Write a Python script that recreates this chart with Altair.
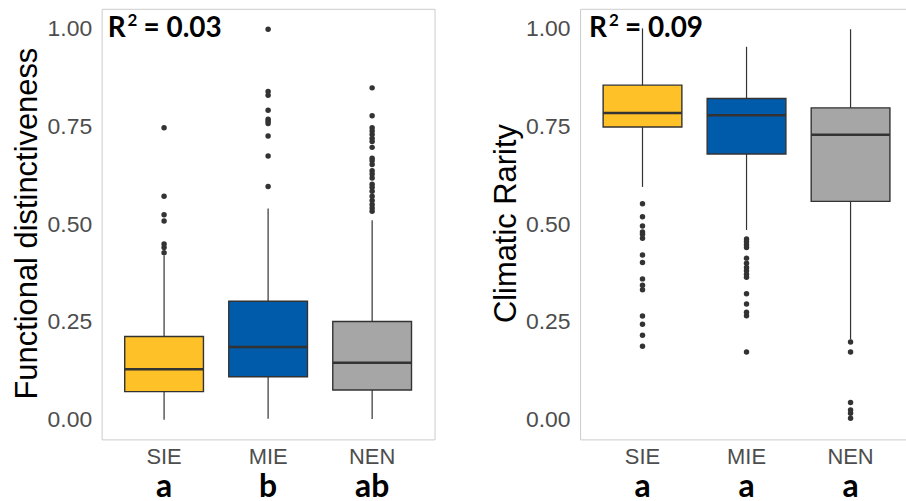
import altair as alt
import pandas as pd

groups = ["SIE", "MIE", "NEN"]
fills = ["#FEC127", "#005BAA", "#A6A6A6"]
y_ticks = [0.0, 0.25, 0.5, 0.75, 1.0]

# Functional distinctiveness: box statistics per group
fd_lower = [0.000, 0.003, 0.002]
fd_q1 = [0.072, 0.110, 0.076]
fd_median = [0.129, 0.186, 0.146]
fd_q3 = [0.213, 0.303, 0.251]
fd_upper = [0.420, 0.540, 0.510]
fd_out_sie = [0.746, 0.571, 0.524, 0.508, 0.449, 0.440, 0.427]
fd_out_mie = [0.998, 0.839, 0.829, 0.791, 0.768, 0.763, 0.757, 0.725, 0.674, 0.596]
fd_out_nen = [0.848, 0.777, 0.746, 0.738, 0.729, 0.719, 0.711, 0.696, 0.668, 0.662,
              0.652, 0.636, 0.628, 0.618, 0.602, 0.594, 0.584, 0.571, 0.560, 0.550,
              0.541, 0.533]
fd_letters = ["a", "b", "ab"]
fd_r2 = "0.03"

# Climatic rarity: box statistics per group
cr_lower = [0.595, 0.485, 0.205]
cr_q1 = [0.748, 0.679, 0.558]
cr_median = [0.784, 0.778, 0.728]
cr_q3 = [0.855, 0.821, 0.797]
cr_upper = [1.000, 0.953, 0.998]
cr_out_sie = [0.552, 0.519, 0.495, 0.480, 0.474, 0.464, 0.421, 0.402, 0.360, 0.344,
              0.332, 0.265, 0.244, 0.216, 0.188]
cr_out_mie = [0.462, 0.455, 0.447, 0.440, 0.413, 0.400, 0.389, 0.381, 0.372, 0.364,
              0.322, 0.296, 0.275, 0.266, 0.173]
cr_out_nen = [0.199, 0.173, 0.044, 0.025, 0.017, 0.004]
cr_letters = ["a", "a", "a"]
cr_r2 = "0.09"

INK = "#333333"
LABEL_FONT = "Liberation Sans"
NOTE_FONT = "Lato"


def panel(title, lower, q1, median, q3, upper, outliers, letters, r2, r2_x):
    summary = pd.DataFrame({
        "group": groups, "lower": lower, "q1": q1, "median": median,
        "q3": q3, "upper": upper, "letter": letters,
    })
    points = pd.DataFrame(
        [(g, v) for g, vals in zip(groups, outliers) for v in vals],
        columns=["group", "value"],
    )
    label = pd.DataFrame({"r": ["R"], "sup": ["2"], "rest": ["= " + r2]})

    x = alt.X(
        "group:N", sort=groups, title=None,
        scale=alt.Scale(paddingInner=0, paddingOuter=0.1),
        axis=alt.Axis(labelAngle=0, labelFont=LABEL_FONT, labelFontSize=22,
                      labelColor="#4D4D4D", labelPadding=7),
    )
    y_scale = alt.Scale(domain=[-0.05, 1.05], nice=False, zero=False)
    y_axis = alt.Axis(
        values=y_ticks, format=".2f", labelFont=LABEL_FONT, labelFontSize=23,
        labelColor="#4D4D4D", labelPadding=10,
        titleFont=LABEL_FONT, titleFontSize=31, titleColor="#000000",
        titleFontWeight="normal", titleAngle=270, titleBaseline="alphabetic",
        titleAlign="center", titleX=-65, titleY=215,
    )

    def Y(field):
        return alt.Y(field, scale=y_scale, axis=y_axis, title=title)

    base = alt.Chart(summary)
    whiskers = base.mark_rule(color=INK, strokeWidth=1.2).encode(
        x=x, y=Y("lower:Q"), y2="upper:Q")
    boxes = base.mark_bar(size=79, stroke=INK, strokeWidth=1.4).encode(
        x=x, y=Y("q1:Q"), y2="q3:Q",
        color=alt.Color("group:N", scale=alt.Scale(domain=groups, range=fills),
                        legend=None),
    )
    medians = base.mark_tick(size=79, thickness=2.5, color=INK, opacity=1).encode(
        x=x, y=Y("median:Q"))
    dots = alt.Chart(points).mark_circle(size=30, color=INK, opacity=1).encode(
        x=x, y=Y("value:Q"))
    letter_text = base.mark_text(
        font=NOTE_FONT, fontWeight="bold", fontSize=32, color="#000000",
        baseline="alphabetic", align="center",
    ).encode(x=x, y=alt.value(490), text="letter:N")

    # R² annotation in the top-left corner of the panel
    note = alt.Chart(label)
    note_style = dict(font=NOTE_FONT, fontWeight="bold", color="#000000",
                      baseline="alphabetic", align="left")
    r_text = note.mark_text(fontSize=28, **note_style).encode(
        x=alt.value(r2_x), y=alt.value(28), text="r:N")
    sup_text = note.mark_text(fontSize=17, **note_style).encode(
        x=alt.value(r2_x + 20), y=alt.value(17), text="sup:N")
    rest_text = note.mark_text(fontSize=28, **note_style).encode(
        x=alt.value(r2_x + 36), y=alt.value(28), text="rest:N")

    return alt.layer(whiskers, boxes, medians, dots, letter_text,
                     r_text, sup_text, rest_text).properties(width=334, height=432)


left = panel("Functional distinctiveness", fd_lower, fd_q1, fd_median, fd_q3, fd_upper,
             [fd_out_sie, fd_out_mie, fd_out_nen], fd_letters, fd_r2, 6)
right = panel("Climatic Rarity", cr_lower, cr_q1, cr_median, cr_q3, cr_upper,
              [cr_out_sie, cr_out_mie, cr_out_nen], cr_letters, cr_r2, 9)

chart = (
    alt.hconcat(left, right, spacing=146, bounds="flush")
    .properties(padding={"left": 11, "top": 7, "right": -8, "bottom": -4})
    .configure_view(stroke="#CCCCCC", strokeWidth=1)
    .configure_axis(grid=False, domain=False, ticks=False)
)

chart.save("out.html", embed_options={"renderer": "svg", "actions": False})
